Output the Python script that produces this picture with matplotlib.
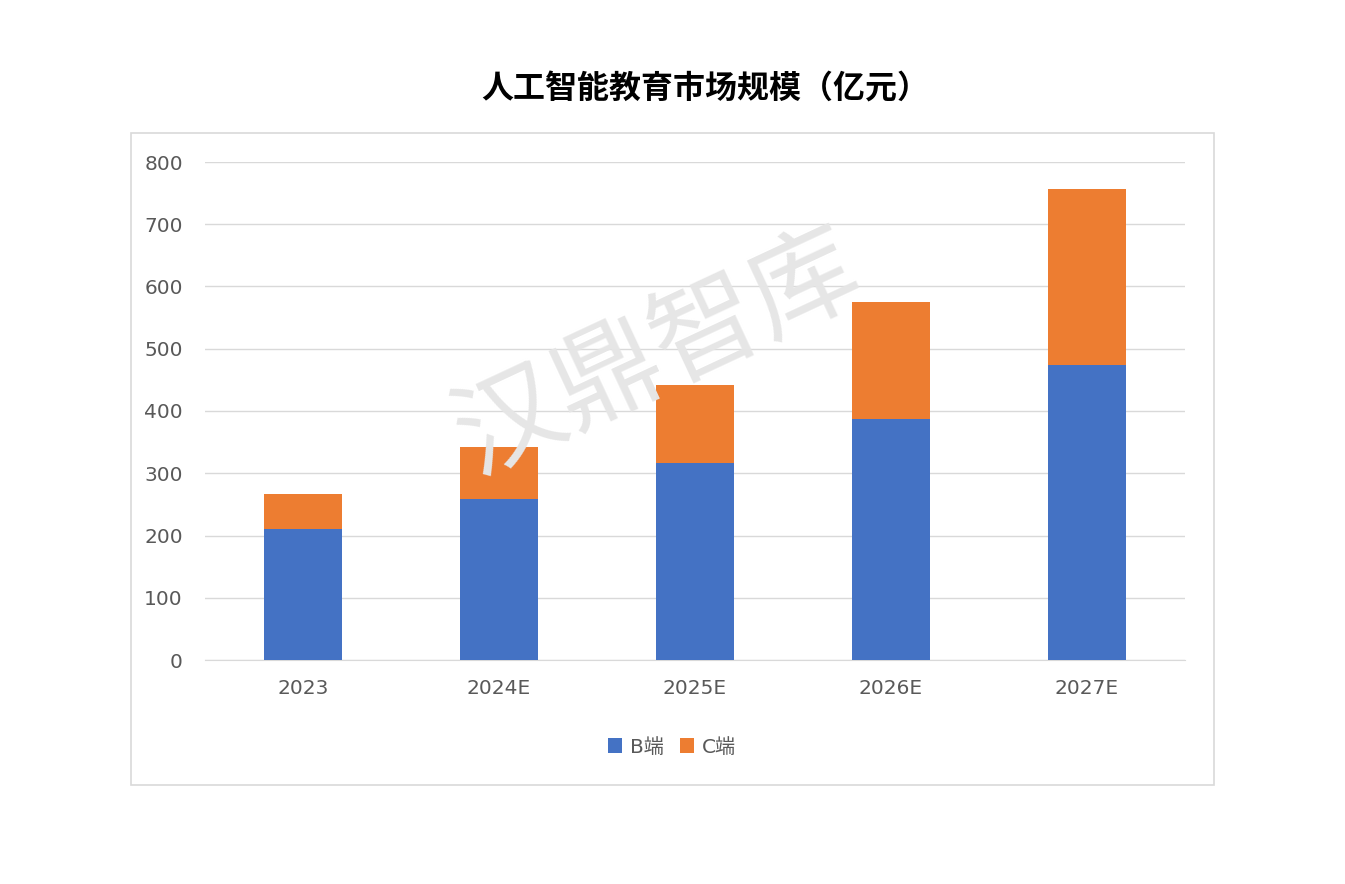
import matplotlib.pyplot as plt
from matplotlib import font_manager
from matplotlib.patches import Rectangle

# pick whatever CJK family is registered, used as fallback after DejaVu
cjk = [f.name for f in font_manager.fontManager.ttflist if 'CJK' in f.name]
fams = sorted(set(cjk), key=lambda n: (0 if 'SC' in n else 1, n))
plt.rcParams['font.family'] = ['DejaVu Sans'] + fams

years = ['2023', '2024E', '2025E', '2026E', '2027E']
b_side = [210, 259, 317, 387, 474]
c_side = [57, 83, 125, 188, 283]

fig = plt.figure(figsize=(13.45, 8.84), dpi=100)
# outer chart frame
fig.patches.append(Rectangle((131 / 1345, 1 - 785 / 884), 1083 / 1345, 652 / 884,
                             transform=fig.transFigure, fill=False,
                             edgecolor='#d9d9d9', linewidth=1.2))

ax = fig.add_axes([205 / 1345, 1 - 660 / 884, 980 / 1345, 498 / 884])
x = range(len(years))
ax.bar(x, b_side, width=0.4, color='#4472c4', label='B端', zorder=3)
ax.bar(x, c_side, width=0.4, bottom=b_side, color='#ed7d31', label='C端', zorder=3)

ax.set_xlim(-0.5, 4.5)
ax.set_ylim(0, 800)
ax.set_yticks(range(0, 801, 100))
ax.set_xticks(list(x))
ax.set_xticklabels(years)
ax.grid(axis='y', color='#d9d9d9', linewidth=1, zorder=0)
for s in ['top', 'right', 'left']:
    ax.spines[s].set_visible(False)
ax.spines['bottom'].set_color('#d9d9d9')
ax.tick_params(axis='both', length=0, labelsize=14.5, labelcolor='#595959')
ax.tick_params(axis='x', pad=14)
ax.tick_params(axis='y', pad=16)

fig.text(705 / 1345, 1 - 90 / 884, '人工智能教育市场规模（亿元）', ha='center', va='center',
         fontsize=23, fontweight='bold', color='black')
fig.text(658 / 1345, 1 - 355 / 884, '汉鼎智库', ha='center', va='center',
         fontsize=78, color='#e6e6e6', rotation=25, zorder=10)

fig.legend(loc='center', bbox_to_anchor=(672 / 1345, 1 - 747 / 884), ncol=2,
           frameon=False, fontsize=14.5, handlelength=0.7, handleheight=0.7,
           columnspacing=0.8, handletextpad=0.4, labelcolor='#595959')

fig.savefig('out.png', dpi=100)
